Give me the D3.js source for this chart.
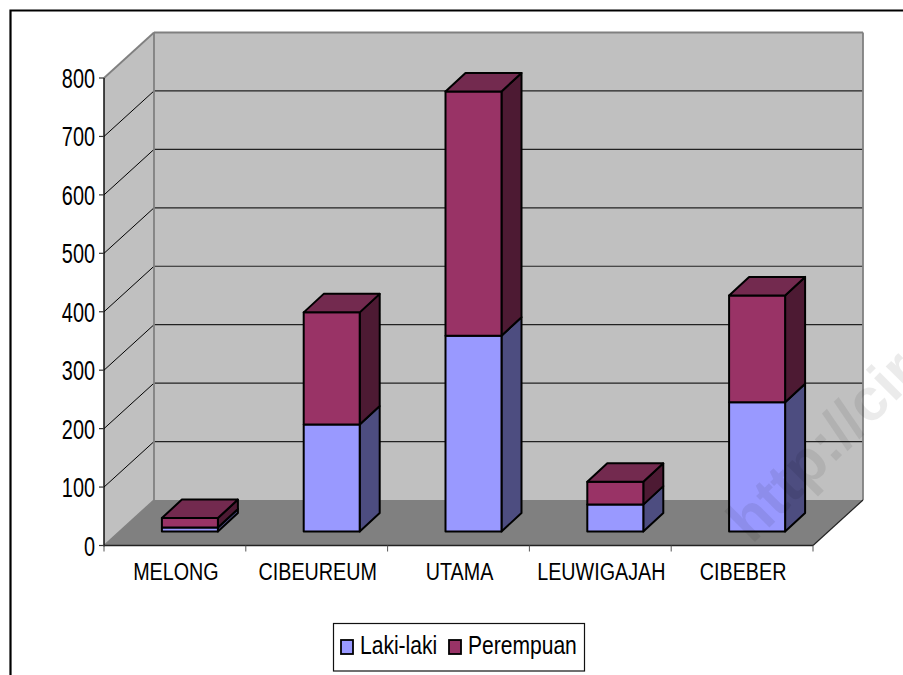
<!DOCTYPE html>
<html><head><meta charset="utf-8">
<script src="https://cdn.jsdelivr.net/npm/d3@7/dist/d3.min.js"></script>
<style>html,body{margin:0;padding:0;background:#fff}svg{display:block}text{font-family:"Liberation Sans",Arial,sans-serif;fill:#000}</style>
</head><body><svg id="c" width="903" height="675"></svg>
<script>
const categories=["MELONG","CIBEUREUM","UTAMA","LEUWIGAJAH","CIBEBER"];
const lakiLaki=[7,183,335,46,221];
const perempuan=[16,192,418,39,183];
const yTicks=[0,100,200,300,400,500,600,700,800];
const seriesNames=["Laki-laki","Perempuan"];
const faceColors=["#9999ff","#993366"];
const sideColors=["#4d4d80","#4d1a33"];
const topColors=["#7a7acc","#732a4f"];
const watermark="http://cir";

const svg=d3.select("#c");
const x=d3.scaleBand().domain(categories).range([104,813]);
const y=d3.scaleLinear().domain([0,800]).range([545.5,78]);
const depth={dx:50,dy:-45.5};
const barOff={dx:15,dy:-14};
const barDepth={dx:20,dy:-18.5};
const barW=56;
const poly=(pts,fill,stroke,sw)=>svg.append("polygon").attr("points",pts.map(p=>p.join(",")).join(" ")).attr("fill",fill).attr("stroke",stroke||"none").attr("stroke-width",sw||0).attr("stroke-linejoin","round");
const line=(a,b,c,w)=>svg.append("line").attr("x1",a[0]).attr("y1",a[1]).attr("x2",b[0]).attr("y2",b[1]).attr("stroke",c).attr("stroke-width",w);

// frame
svg.append("path").attr("d","M10.5,675V10.5H903").attr("fill","none").attr("stroke","#000").attr("stroke-width",2.2);

const x0=x.range()[0],x1=x.range()[1],yb=y(0),yt=y(800);
// walls and floor
poly([[x0+depth.dx,yt+depth.dy],[x1+depth.dx,yt+depth.dy],[x1+depth.dx,yb+depth.dy],[x0+depth.dx,yb+depth.dy]],"#c0c0c0");
poly([[x0,yt],[x0+depth.dx,yt+depth.dy],[x0+depth.dx,yb+depth.dy],[x0,yb]],"#c0c0c0");
poly([[x0,yb],[x0+depth.dx,yb+depth.dy],[x1+depth.dx,yb+depth.dy],[x1,yb]],"#808080");
// gridlines
yTicks.slice(1,-1).forEach(t=>{
  line([x0,y(t)],[x0+depth.dx,y(t)+depth.dy],"#000",1);
  line([x0+depth.dx,y(t)+depth.dy],[x1+depth.dx,y(t)+depth.dy],"#222",1.2);
});
// wall edges
const g="#808080";
line([x0,yt],[x0+depth.dx,yt+depth.dy],g,1.8);
line([x0+depth.dx,yt+depth.dy],[x1+depth.dx,yt+depth.dy],g,1.8);
line([x0+depth.dx,yt+depth.dy],[x0+depth.dx,yb+depth.dy],g,1.8);
line([x1+depth.dx,yt+depth.dy],[x1+depth.dx,yb+depth.dy],g,1.8);
line([x0,yb],[x0+depth.dx,yb+depth.dy],g,1.5);
line([x1,yb],[x1+depth.dx,yb+depth.dy],"#222",1.2);

// bars
const stack=d3.stack().keys([0,1]).value((d,k)=>d[k])(categories.map((c,i)=>[lakiLaki[i],perempuan[i]]));
categories.forEach((c,i)=>{
  const L=x(c)+x.bandwidth()/2+barOff.dx-barW/2,R=L+barW;
  stack.forEach((s,k)=>{
    const b=y(s[i][0])+barOff.dy,t=y(s[i][1])+barOff.dy,d=barDepth;
    poly([[R,t],[R+d.dx,t+d.dy],[R+d.dx,b+d.dy],[R,b]],sideColors[k],"#000",2);
    poly([[L,b],[R,b],[R,t],[L,t]],faceColors[k],"#000",2);
    if(k===stack.length-1) poly([[L,t],[R,t],[R+d.dx,t+d.dy],[L+d.dx,t+d.dy]],topColors[k],"#000",2);
  });
});

// axes
line([x0,yt],[x0,yb+1],"#000",1.4);
line([x0,yb],[x1,yb],"#222",1.6);
yTicks.forEach(t=>{
  line([x0-5,y(t)],[x0,y(t)],"#333",1.2);
  svg.append("text").attr("transform",`translate(${x0-9},${y(t)+10}) scale(0.71,1)`).attr("text-anchor","end").attr("font-size",28).text(t);
});
categories.forEach((c,i)=>{
  line([x(c),yb],[x(c),yb+6],"#555",1);
  svg.append("text").attr("transform",`translate(${x(c)+x.bandwidth()/2+1},${yb+34.5}) scale(0.84,1)`).attr("text-anchor","middle").attr("font-size",23.5).text(c);
});
line([x1,yb],[x1,yb+6],"#555",1);

// legend
svg.append("rect").attr("x",333.5).attr("y",623.5).attr("width",251).attr("height",47.5).attr("fill","#fff").attr("stroke","#111").attr("stroke-width",1.2);
const legX=[341,449];
seriesNames.forEach((n,k)=>{
  svg.append("rect").attr("x",legX[k]).attr("y",640).attr("width",12).attr("height",14).attr("fill",faceColors[k]).attr("stroke","#000").attr("stroke-width",1.8);
  svg.append("text").attr("transform",`translate(${legX[k]+19},${653.5}) scale(0.81,1)`).attr("font-size",26).text(n);
});

// watermark
svg.append("text").attr("transform","translate(752,545) rotate(-45)").attr("font-size",60).attr("font-weight","bold").attr("style","fill:#000;fill-opacity:0.08").text(watermark);
</script></body></html>
